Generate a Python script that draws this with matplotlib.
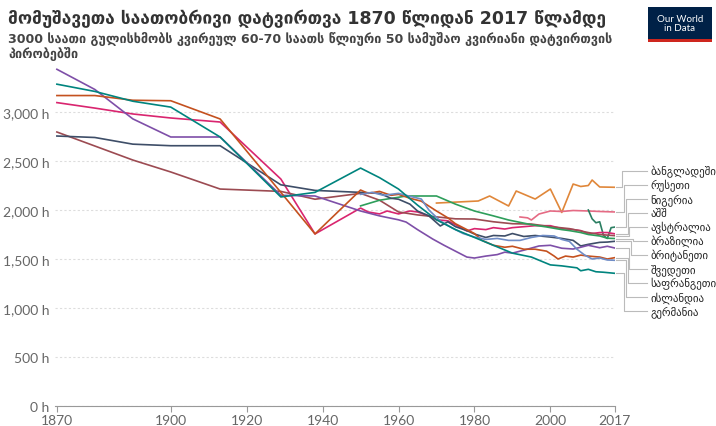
import matplotlib
matplotlib.use('Agg')
import matplotlib.pyplot as plt
from matplotlib.patches import Rectangle
from matplotlib.ticker import FuncFormatter

plt.rcParams['font.family'] = ['Lato', 'DejaVu Sans']

# Dados (horas trabalhadas por ano)
germany_y = [1870, 1880, 1890, 1900, 1913, 1929, 1938, 1950, 1955, 1960, 1965, 1970, 1975, 1980, 1985,
             1990, 1995, 2000, 2003, 2005, 2007, 2008, 2010, 2012, 2014, 2017]
germany_h = [3284, 3210, 3110, 3050, 2745, 2133, 2180, 2428, 2330, 2214, 2050, 1900, 1800, 1720, 1640,
             1560, 1520, 1440, 1430, 1420, 1410, 1380, 1395, 1370, 1365, 1354]

sweden_y = [1870, 1880, 1890, 1900, 1913, 1929, 1938, 1950, 1955, 1960, 1962, 1965, 1969, 1972, 1975,
            1978, 1980, 1983, 1986, 1988, 1990, 1993, 1997, 2000, 2003, 2006, 2008, 2010, 2013, 2015, 2017]
sweden_h = [3436, 3230, 2930, 2745, 2745, 2150, 2143, 1990, 1940, 1900, 1877, 1800, 1704, 1640, 1580,
            1520, 1510, 1530, 1545, 1570, 1560, 1590, 1633, 1640, 1610, 1602, 1620, 1640, 1615, 1630, 1612]

france_y = [1870, 1880, 1890, 1900, 1913, 1929, 1938, 1950, 1952, 1955, 1958, 1960, 1963, 1966, 1968,
            1970, 1973, 1975, 1978, 1980, 1982, 1985, 1988, 1990, 1993, 1996, 1999, 2001, 2002, 2004,
            2006, 2008, 2010, 2013, 2015, 2017]
france_h = [3168, 3168, 3120, 3115, 2929, 2180, 1756, 2204, 2170, 2190, 2150, 2160, 2120, 2090, 2040,
            1990, 1920, 1860, 1800, 1760, 1690, 1640, 1620, 1630, 1600, 1600, 1580, 1530, 1500, 1530,
            1520, 1540, 1530, 1520, 1500, 1514]

uk_y = [1870, 1880, 1890, 1900, 1913, 1929, 1938, 1950, 1955, 1958, 1960, 1963, 1965, 1968, 1971,
        1973, 1975, 1978, 1980, 1983, 1985, 1988, 1990, 1993, 1996, 2000, 2003, 2006, 2008, 2010,
        2013, 2015, 2017]
uk_h = [2755, 2740, 2672, 2656, 2656, 2257, 2200, 2180, 2170, 2120, 2110, 2060, 1990, 1940, 1837,
        1880, 1830, 1790, 1755, 1720, 1740, 1735, 1760, 1730, 1740, 1724, 1710, 1690, 1633, 1650,
        1670, 1673, 1681]

australia_y = [1870, 1890, 1900, 1913, 1929, 1938, 1950, 1955, 1960, 1965, 1970, 1975, 1980, 1985,
               1990, 1995, 2000, 2005, 2010, 2013, 2017]
australia_h = [2796, 2510, 2388, 2214, 2190, 2110, 2170, 2100, 1980, 1950, 1930, 1910, 1908, 1880,
               1860, 1857, 1830, 1810, 1770, 1750, 1738]

usa_y = [1870, 1880, 1890, 1900, 1913, 1929, 1938, 1950, 1952, 1955, 1957, 1960, 1963, 1965, 1968,
         1970, 1973, 1975, 1978, 1980, 1983, 1985, 1988, 1990, 1993, 1996, 2000, 2003, 2006, 2008,
         2010, 2013, 2015, 2017]
usa_h = [3096, 3040, 2980, 2939, 2898, 2316, 1756, 2020, 1980, 1960, 1990, 1960, 1990, 1980, 1940,
         1900, 1890, 1850, 1786, 1810, 1800, 1820, 1806, 1820, 1830, 1840, 1840, 1810, 1800, 1790,
         1755, 1770, 1770, 1757]

brazil_y = [1950, 1955, 1960, 1962, 1970, 1975, 1980, 1985, 1989, 1995, 1999, 2003, 2005, 2008, 2010,
            2013, 2015, 2017]
brazil_h = [2042, 2100, 2130, 2143, 2143, 2060, 1990, 1940, 1898, 1850, 1827, 1800, 1790, 1770, 1750,
            1735, 1712, 1709]

iceland_y = [1950, 1953, 1956, 1960, 1963, 1966, 1968, 1971, 1974, 1977, 1980, 1983, 1986, 1989, 1992,
             1995, 1998, 2001, 2003, 2005, 2007, 2009, 2011, 2013, 2015, 2017]
iceland_h = [2160, 2180, 2150, 2170, 2140, 2112, 2000, 1888, 1820, 1760, 1724, 1700, 1710, 1690, 1690,
             1720, 1740, 1735, 1700, 1680, 1600, 1541, 1500, 1510, 1490, 1487]

bangladesh_y = [1970, 1981, 1984, 1989, 1991, 1996, 2000, 2003, 2006, 2008, 2010, 2011, 2013, 2017]
bangladesh_h = [2071, 2092, 2143, 2041, 2194, 2112, 2214, 1975, 2265, 2240, 2250, 2306, 2235, 2232]

russia_y = [1992, 1994, 1995, 1997, 2000, 2003, 2006, 2010, 2013, 2017]
russia_h = [1929, 1920, 1898, 1959, 1990, 1985, 1995, 1990, 1985, 1980]

nigeria_y = [2010, 2011, 2012, 2013, 2014, 2015, 2016, 2017]
nigeria_h = [2000, 1910, 1870, 1880, 1740, 1710, 1820, 1826]

series = [
    ('ბანგლადეში', bangladesh_y, bangladesh_h, '#e0873a'),
    ('რუსეთი', russia_y, russia_h, '#e56b84'),
    ('ნიგერია', nigeria_y, nigeria_h, '#2b7f62'),
    ('აშშ', usa_y, usa_h, '#d9256f'),
    ('ავსტრალია', australia_y, australia_h, '#9c4b52'),
    ('ბრაზილია', brazil_y, brazil_h, '#2e9e5b'),
    ('ბრიტანეთი', uk_y, uk_h, '#3e4e68'),
    ('შვედეთი', sweden_y, sweden_h, '#7e4fa8'),
    ('საფრანგეთი', france_y, france_h, '#c4511f'),
    ('ისლანდია', iceland_y, iceland_h, '#6f8cc6'),
    ('გერმანია', germany_y, germany_h, '#00847e'),
]

x_ticks = [1870, 1900, 1920, 1940, 1960, 1980, 2000, 2017]
y_ticks = [0, 500, 1000, 1500, 2000, 2500, 3000]

fig = plt.figure(figsize=(7.16, 4.27), dpi=100)
ax = fig.add_axes([0.0768, 0.0468, 0.782, 0.801])

for name, xs, ys, cor in series:
    ax.plot(xs, ys, color=cor, lw=1.2, solid_joinstyle='round')

ax.set_xlim(1869.5, 2017)
ax.set_ylim(0, 3490)
ax.set_xticks(x_ticks)
ax.set_yticks(y_ticks)
ax.yaxis.set_major_formatter(FuncFormatter(lambda v, p: f'{int(v):,} h'))
ax.tick_params(axis='y', length=0, labelsize=10, labelcolor='#666666', pad=4)
ax.tick_params(axis='x', length=4, color='#999999', labelsize=10, labelcolor='#666666', pad=2)
ax.grid(axis='y', color='#dddddd', linestyle=(0, (2, 2)), lw=0.8)
for s in ['top', 'right', 'left']:
    ax.spines[s].set_visible(False)
ax.spines['bottom'].set_color('#999999')

# Rótulos à direita com linhas-guia
ordem = sorted(series, key=lambda s: -s[2][-1])
topo, passo = 2400, 143
n = len(ordem)
for i, (name, xs, ys, cor) in enumerate(ordem):
    ly = topo - i * passo
    ey = ys[-1]
    xv = 2019.0 + (i if ly > ey else n - i) * 0.45
    ax.plot([2017.4, xv, xv, 2025.5], [ey, ey, ly, ly], color='#bbbbbb', lw=0.8, clip_on=False)
    ax.text(2026.3, ly, name, fontsize=7.8, color='#222222', va='center', ha='left',
            family='DejaVu Sans')

fig.text(0.011, 0.955, 'მომუშავეთა საათობრივი დატვირთვა 1870 წლიდან 2017 წლამდე',
         fontsize=12.5, fontweight='bold', color='#333333', family='DejaVu Sans', va='center')
fig.text(0.011, 0.908, '3000 საათი გულისხმობს კვირეულ 60-70 საათს წლიური 50 სამუშაო კვირიანი დატვირთვის',
         fontsize=9.1, fontweight='bold', color='#444444', family='DejaVu Sans', va='center')
fig.text(0.011, 0.873, 'პირობებში',
         fontsize=9.1, fontweight='bold', color='#444444', family='DejaVu Sans', va='center')

# Logo
fig.patches.append(Rectangle((648 / 716, 1 - 43 / 427), 64 / 716, 35 / 427, transform=fig.transFigure,
                             facecolor='#002147', edgecolor='none'))
fig.patches.append(Rectangle((648 / 716, 1 - 43 / 427), 64 / 716, 3 / 427, transform=fig.transFigure,
                             facecolor='#ce261e', edgecolor='none'))
fig.text(680 / 716, 1 - 24 / 427, 'Our World\nin Data', fontsize=7, color='white', ha='center',
         va='center', linespacing=1.0)

fig.savefig('out.png', dpi=100)
